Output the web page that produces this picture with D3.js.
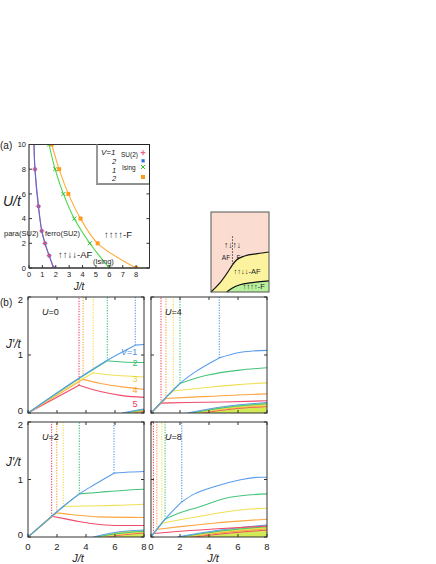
<!DOCTYPE html>
<html><head><meta charset="utf-8">
<script src="https://cdnjs.cloudflare.com/ajax/libs/d3/7.8.5/d3.min.js"></script>
<style>
body{margin:0;background:#fff}
svg{display:block}
text{font-family:"Liberation Sans",Arial,sans-serif;fill:#222}
</style>
</head><body><script>
// ---------- panel (a) data ----------
var suU  = [0, 1, 2, 3, 5, 8, 10];
var suJ1 = [1.83, 1.5, 1.19, 0.96, 0.69, 0.44, 0.37];
var suJ2 = [1.85, 1.51, 1.2, 0.95, 0.72, 0.45, 0.38];
var isU  = [0, 2, 4, 6, 8, 10];
var isJ1 = [6.0, 4.54, 3.38, 2.57, 1.95, 1.5];
var isJ2 = [8.0, 5.13, 3.85, 2.94, 2.25, 1.7];
var aXTicks = [0, 1, 2, 3, 4, 5, 6, 7, 8];
var aYTicks = [0, 2, 4, 6, 8, 10];

// ---------- panel (b) data ----------
var panelU = [0, 4, 2, 8];
var vLabels = ["1", "2", "3", "4", "5"];
var vLabelJp = [1.05, 0.86, 0.59, 0.41, 0.155];   // where the V labels sit in U=0
var bXTicks = [0, 2, 4, 6, 8];
var bYTicks = [0, 1, 2];

// J where each V curve kinks (V=1..5), per panel
var kinkJ = [
  [7.4, 5.47, 4.5, 3.8, 3.52],
  [4.71, 2.0, 1.54, 1.03, 0.69],
  [5.93, 3.54, 2.43, 1.98, 1.63],
  [2.12, 0.97, 0.74, 0.4, 0.17]
];

// [J, J'] points for V=1..5
var u0Lines = [
  [[0,0],[3.5,0.6],[5.47,0.91],[7.4,1.17],[8,1.18]],
  [[0,0],[3.5,0.59],[5.47,0.9],[6.5,0.88],[8,0.87]],
  [[0,0],[3.5,0.55],[4.5,0.69],[6,0.65],[8,0.62]],
  [[0,0],[3.8,0.58],[5,0.51],[6.5,0.45],[8,0.41]],
  [[0,0],[3.52,0.48],[5,0.37],[6.5,0.3],[8,0.27]]
];
var u4Lines = [
  [[0,0],[1.03,0.27],[2,0.51],[3,0.7],[4.71,0.95],[6,1.04],[7,1.07],[8,1.08]],
  [[0,0],[1.03,0.27],[2,0.51],[3.84,0.65],[6.1,0.74],[8,0.78]],
  [[0,0],[1.03,0.27],[1.54,0.38],[3.84,0.44],[6,0.49],[8,0.52]],
  [[0,0],[1.03,0.25],[2.5,0.27],[4.3,0.29],[6,0.31],[8,0.33]],
  [[0,0],[0.69,0.17],[2.5,0.18],[5,0.19],[8,0.21]]
];
var u2Lines = [
  [[0,0],[1.63,0.36],[2.43,0.53],[3.54,0.75],[4.5,0.9],[5.93,1.11],[7,1.13],[8,1.14]],
  [[0,0],[1.63,0.36],[2.43,0.53],[3.54,0.75],[5,0.78],[6.5,0.81],[8,0.83]],
  [[0,0],[1.63,0.36],[2.43,0.53],[4,0.54],[6,0.55],[8,0.57]],
  [[0,0],[1.98,0.42],[3,0.39],[5,0.35],[8,0.34]],
  [[0,0],[1.63,0.36],[2.5,0.32],[3.5,0.27],[4.5,0.23],[6,0.2],[8,0.2]]
];
var u8Lines = [
  [[0,0],[0.97,0.31],[2.12,0.61],[3,0.75],[4.3,0.87],[6.1,0.99],[7.5,1.04],[8,1.04]],
  [[0,0],[0.97,0.31],[2,0.42],[3.15,0.51],[5.45,0.69],[8,0.75]],
  [[0,0],[0.74,0.24],[2,0.3],[3.15,0.35],[6.1,0.47],[8,0.5]],
  [[0,0],[0.4,0.13],[2,0.18],[4.3,0.24],[8,0.31]],
  [[0,0],[0.17,0.06],[2,0.1],[4.3,0.14],[8,0.19]]
];
// lower (ferro) boundaries
var u0Ferro = [
  [[6.5,0],[7.3,0.04],[8,0.07]],
  [[6.7,0],[7.4,0.03],[8,0.06]],
  [[6.9,0],[7.5,0.03],[8,0.05]],
  [[7.1,0],[7.6,0.02],[8,0.04]],
  [[7.3,0],[7.7,0.02],[8,0.03]]
];
var u4Ferro = [
  [[2.5,0],[5,0.11],[8,0.18]],
  [[2.8,0],[5,0.09],[8,0.16]],
  [[3.1,0],[5.5,0.09],[8,0.14]],
  [[3.3,0],[5.5,0.08],[8,0.12]],
  [[3.5,0],[6,0.08],[8,0.11]]
];
var u2Ferro = [
  [[4.5,0],[6,0.08],[8,0.12]],
  [[4.7,0],[6.2,0.06],[8,0.1]],
  [[4.9,0],[6.4,0.05],[8,0.09]],
  [[5.1,0],[6.5,0.05],[8,0.08]],
  [[5.3,0],[6.6,0.04],[8,0.07]]
];
var u8Ferro = [
  [[1.8,0],[5,0.13],[8,0.21]],
  [[2.0,0],[5,0.11],[8,0.18]],
  [[2.3,0],[5,0.1],[8,0.16]],
  [[2.6,0],[5.5,0.09],[8,0.14]],
  [[2.9,0],[5.5,0.07],[8,0.12]]
];
var panelLines = [u0Lines, u4Lines, u2Lines, u8Lines];
var panelFerro = [u0Ferro, u4Ferro, u2Ferro, u8Ferro];

// inset schematic (local 0..1 coordinates)
var insetUpper = [[0,0],[0.15,0.11],[0.29,0.25],[0.37,0.34],[0.44,0.4],[0.58,0.45],[0.8,0.48],[1,0.5]];
var insetLower = [[0.27,0],[0.37,0.05],[0.5,0.09],[0.67,0.115],[0.85,0.13],[1,0.14]];

var vColors = ["#5a9ceb", "#46c57c", "#f0df55", "#ffa540", "#ef4b6a"];
var vTextColors = ["#4a8fe3", "#2fb86a", "#e8d22a", "#ff9a25", "#ee3858"];

var svg = d3.select("body").append("svg").attr("width", 436).attr("height", 564);
svg.append("rect").attr("width", 436).attr("height", 564).attr("fill", "#fff");

// ================= panel (a) =================
var ax = d3.scaleLinear().domain([0, 9]).range([29, 149.5]);
var ay = d3.scaleLinear().domain([0, 10]).range([268, 144.5]);

svg.append("clipPath").attr("id", "clipA").append("rect")
  .attr("x", ax(0)).attr("y", ay(10)).attr("width", ax(9) - ax(0)).attr("height", ay(0) - ay(10));
var ga = svg.append("g").attr("clip-path", "url(#clipA)");

var aLine = d3.line().x(function(d){ return ax(d[0]); }).y(function(d){ return ay(d[1]); })
  .curve(d3.curveCatmullRom.alpha(0.5));

function pairs(js, us){ return js.map(function(j, i){ return [j, us[i]]; }); }

ga.append("path").attr("d", aLine(pairs(isJ2, isU))).attr("fill", "none").attr("stroke", "#ffab3d").attr("stroke-width", 1.1);
ga.append("path").attr("d", aLine(pairs(isJ1, isU))).attr("fill", "none").attr("stroke", "#48d648").attr("stroke-width", 1.1);
ga.append("path").attr("d", aLine(pairs(suJ1, suU))).attr("fill", "none").attr("stroke", "#ee4d7a").attr("stroke-width", 1.1);
ga.append("path").attr("d", aLine(pairs(suJ2, suU))).attr("fill", "none").attr("stroke", "#3a72dd").attr("stroke-width", 1.1).attr("opacity", 0.85);

// markers
ga.selectAll("rect.su2").data(pairs(suJ2, suU).slice(0, 6)).enter().append("rect")
  .attr("class", "su2")
  .attr("x", function(d){ return ax(d[0]) - 1.6; }).attr("y", function(d){ return ay(d[1]) - 1.6; })
  .attr("width", 3.2).attr("height", 3.2).attr("fill", "#2f6ee0");
ga.selectAll("path.su1").data(pairs(suJ1, suU).slice(0, 6)).enter().append("path")
  .attr("class", "su1")
  .attr("d", function(d){ var x = ax(d[0]), y = ay(d[1]); return "M" + (x-2.5) + "," + y + "H" + (x+2.5) + "M" + x + "," + (y-2.5) + "V" + (y+2.5); })
  .attr("stroke", "#ee4d7a").attr("stroke-width", 1);
ga.selectAll("path.is1").data(pairs(isJ1, isU)).enter().append("path")
  .attr("class", "is1")
  .attr("d", function(d){ var x = ax(d[0]), y = ay(d[1]); return "M" + (x-2) + "," + (y-2) + "L" + (x+2) + "," + (y+2) + "M" + (x+2) + "," + (y-2) + "L" + (x-2) + "," + (y+2); })
  .attr("stroke", "#33c433").attr("stroke-width", 1);
ga.selectAll("rect.is2").data(pairs(isJ2, isU)).enter().append("rect")
  .attr("class", "is2")
  .attr("x", function(d){ return ax(d[0]) - 2; }).attr("y", function(d){ return ay(d[1]) - 2; })
  .attr("width", 4).attr("height", 4).attr("fill", "#ff9a1a");

// frame and ticks
svg.append("rect").attr("x", ax(0)).attr("y", ay(10)).attr("width", ax(9) - ax(0)).attr("height", ay(0) - ay(10))
  .attr("fill", "none").attr("stroke", "#333").attr("stroke-width", 1);
svg.append("line").attr("x1", ax(0)).attr("x2", ax(0)).attr("y1", ay(10)).attr("y2", ay(0)).attr("stroke", "#888").attr("stroke-width", 1.6);
svg.append("line").attr("x1", ax(0)).attr("x2", ax(9)).attr("y1", ay(0)).attr("y2", ay(0)).attr("stroke", "#555").attr("stroke-width", 1.4);

svg.selectAll("line.axt").data(aXTicks).enter().append("line").attr("class", "axt")
  .attr("x1", function(d){ return ax(d); }).attr("x2", function(d){ return ax(d); })
  .attr("y1", ay(0)).attr("y2", ay(0) - 3).attr("stroke", "#333");
svg.selectAll("line.ayt").data(aYTicks).enter().append("line").attr("class", "ayt")
  .attr("x1", ax(0)).attr("x2", ax(0) + 3)
  .attr("y1", function(d){ return ay(d); }).attr("y2", function(d){ return ay(d); }).attr("stroke", "#333");
svg.selectAll("line.ayr").data(aYTicks).enter().append("line").attr("class", "ayr")
  .attr("x1", ax(9)).attr("x2", ax(9) - 3)
  .attr("y1", function(d){ return ay(d); }).attr("y2", function(d){ return ay(d); }).attr("stroke", "#333");

svg.selectAll("text.axl").data(aXTicks).enter().append("text").attr("class", "axl")
  .attr("x", function(d){ return ax(d); }).attr("y", ay(0) + 9)
  .attr("text-anchor", "middle").attr("font-size", 7.5).text(function(d){ return d; });
svg.selectAll("text.ayl").data(aYTicks).enter().append("text").attr("class", "ayl")
  .attr("x", ax(0) - 3).attr("y", function(d){ return ay(d) + 2.6; })
  .attr("text-anchor", "end").attr("font-size", 7.5).text(function(d){ return d; });

svg.append("text").attr("x", 0).attr("y", 149).attr("font-size", 10).text("(a)");
svg.append("text").attr("x", 3).attr("y", 206).attr("font-size", 14).attr("font-style", "italic").text("U/t");
svg.append("text").attr("x", 79).attr("y", 290).attr("text-anchor", "middle").attr("font-size", 10).attr("font-style", "italic").text("J/t");

svg.append("text").attr("x", 4).attr("y", 236).attr("font-size", 7.5).text("para(SU2)");
svg.append("text").attr("x", 45).attr("y", 236).attr("font-size", 7.5).text("ferro(SU2)");
svg.append("text").attr("x", 104).attr("y", 237.5).attr("font-size", 9.5).text("\u2191\u2191\u2191\u2191-F");
svg.append("text").attr("x", 58).attr("y", 258).attr("font-size", 9.5).text("\u2191\u2191\u2193\u2193-AF");
svg.append("text").attr("x", 93).attr("y", 264).attr("font-size", 7.5).text("(Ising)");

// legend
var lg = svg.append("g");
lg.append("rect").attr("x", 96.5).attr("y", 144.5).attr("width", 53).attr("height", 39.5)
  .attr("fill", "#fff").attr("stroke", "#222").attr("stroke-width", 1);
lg.append("line").attr("x1", 97).attr("x2", 97).attr("y1", 144.5).attr("y2", 184).attr("stroke", "#999").attr("stroke-width", 2);
lg.append("text").attr("x", 101).attr("y", 155).attr("font-size", 8).attr("font-style", "italic").text("V=1");
lg.append("text").attr("x", 112).attr("y", 164).attr("font-size", 7.5).attr("font-style", "italic").text("2");
lg.append("text").attr("x", 112).attr("y", 172.5).attr("font-size", 7.5).attr("font-style", "italic").text("1");
lg.append("text").attr("x", 112).attr("y", 181).attr("font-size", 7.5).attr("font-style", "italic").text("2");
lg.append("text").attr("x", 121).attr("y", 156.5).attr("font-size", 6.5).text("SU(2)");
lg.append("text").attr("x", 122).attr("y", 170).attr("font-size", 6.5).text("Ising");
lg.append("path").attr("d", "M140.5,152.7H145.5M143,150.2V155.2").attr("stroke", "#ee4d7a");
lg.append("rect").attr("x", 141.5).attr("y", 159.2).attr("width", 3.2).attr("height", 3.2).attr("fill", "#2f6ee0");
lg.append("path").attr("d", "M141,165L145,169M145,165L141,169").attr("stroke", "#33c433");
lg.append("rect").attr("x", 141).attr("y", 175).attr("width", 4).attr("height", 4).attr("fill", "#ff9a1a");

// ================= inset schematic =================
var ix = d3.scaleLinear().domain([0, 1]).range([211, 269]);
var iy = d3.scaleLinear().domain([0, 1]).range([292, 212]);
var iLine = d3.line().x(function(d){ return ix(d[0]); }).y(function(d){ return iy(d[1]); }).curve(d3.curveMonotoneX);
svg.append("rect").attr("x", ix(0)).attr("y", iy(1)).attr("width", ix(1) - ix(0)).attr("height", iy(0) - iy(1)).attr("fill", "#fbdcd1");
svg.append("path").attr("d", d3.area().x(function(d){ return ix(d[0]); }).y0(iy(0)).y1(function(d){ return iy(d[1]); }).curve(d3.curveMonotoneX)(insetUpper)).attr("fill", "#fbf39e");
svg.append("path").attr("d", d3.area().x(function(d){ return ix(d[0]); }).y0(iy(0)).y1(function(d){ return iy(d[1]); }).curve(d3.curveMonotoneX)(insetLower)).attr("fill", "#b8f09c");
svg.append("path").attr("d", iLine(insetUpper)).attr("fill", "none").attr("stroke", "#111").attr("stroke-width", 1.2);
svg.append("path").attr("d", iLine(insetLower)).attr("fill", "none").attr("stroke", "#111").attr("stroke-width", 1.2);
svg.append("line").attr("x1", ix(0.37)).attr("x2", ix(0.37)).attr("y1", iy(0.34)).attr("y2", iy(0.7))
  .attr("stroke", "#444").attr("stroke-dasharray", "1.5,1.5");
svg.append("text").attr("x", ix(0.37)).attr("y", iy(0.55)).attr("text-anchor", "middle").attr("font-size", 8.5).attr("fill", "#333").text("\u2191\u2193\u2191\u2193");
svg.append("text").attr("x", ix(0.33)).attr("y", iy(0.4)).attr("text-anchor", "end").attr("font-size", 6.5).attr("fill", "#333").text("AF");
svg.append("text").attr("x", ix(0.44)).attr("y", iy(0.4)).attr("font-size", 6.5).attr("fill", "#333").text("F");
svg.append("text").attr("x", ix(0.62)).attr("y", iy(0.22)).attr("text-anchor", "middle").attr("font-size", 7.5).attr("fill", "#333").text("\u2191\u2191\u2193\u2193-AF");
svg.append("text").attr("x", ix(0.74)).attr("y", iy(0.035)).attr("text-anchor", "middle").attr("font-size", 7.5).attr("fill", "#666").text("\u2191\u2191\u2191\u2191-F");
svg.append("rect").attr("x", ix(0)).attr("y", iy(1)).attr("width", ix(1) - ix(0)).attr("height", iy(0) - iy(1))
  .attr("fill", "none").attr("stroke", "#555").attr("stroke-width", 1);

// ================= panel (b) =================
var boxes = [
  {x0: 28, x1: 144, y0: 297, y1: 413, xl: 78},
  {x0: 151, x1: 267, y0: 297, y1: 413, xl: 213},
  {x0: 28, x1: 144, y0: 422, y1: 537, xl: 78},
  {x0: 151, x1: 267, y0: 422, y1: 537, xl: 213}
];

boxes.forEach(function(b, p){
  var x = d3.scaleLinear().domain([0, 8]).range([b.x0, b.x1]);
  var y = d3.scaleLinear().domain([0, 2]).range([b.y1, b.y0]);
  var id = "clipB" + p;
  svg.append("clipPath").attr("id", id).append("rect")
    .attr("x", b.x0).attr("y", b.y0).attr("width", b.x1 - b.x0).attr("height", b.y1 - b.y0);
  var g = svg.append("g").attr("clip-path", "url(#" + id + ")");

  var line = d3.line().x(function(d){ return x(d[0]); }).y(function(d){ return y(d[1]); }).curve(d3.curveMonotoneX);
  var area = d3.area().x(function(d){ return x(d[0]); }).y0(y(0)).y1(function(d){ return y(d[1]); }).curve(d3.curveMonotoneX);

  // ferro region
  panelFerro[p].forEach(function(f){
    g.append("path").attr("d", area(f)).attr("fill", "#d3ea58");
  });
  panelFerro[p].slice().reverse().forEach(function(f, k){
    var v = 4 - k;
    g.append("path").attr("d", line(f)).attr("fill", "none").attr("stroke", vColors[v]).attr("stroke-width", 1);
  });

  // main curves, V=5 first so V=1 ends on top
  for (var v = 4; v >= 0; v--) {
    var pts = panelLines[p][v];
    var kj = kinkJ[p][v];
    var ki = pts.findIndex(function(d){ return Math.abs(d[0] - kj) < 1e-6; });
    if (ki < 0) ki = 1;
    var kp = pts[ki];
    g.append("line").attr("x1", x(kp[0])).attr("x2", x(kp[0])).attr("y1", y(kp[1])).attr("y2", y(2))
      .attr("stroke", vColors[v]).attr("stroke-width", 1.1).attr("stroke-dasharray", "1.3,1.3");
    g.append("path").attr("d", line(pts.slice(0, ki + 1))).attr("fill", "none").attr("stroke", vColors[v]).attr("stroke-width", 1.1);
    g.append("path").attr("d", line(pts.slice(ki))).attr("fill", "none").attr("stroke", vColors[v]).attr("stroke-width", 1.1);
  }

  // frame
  svg.append("rect").attr("x", b.x0).attr("y", b.y0).attr("width", b.x1 - b.x0).attr("height", b.y1 - b.y0)
    .attr("fill", "none").attr("stroke", "#333").attr("stroke-width", 1);
  var fr = svg.append("g");
  bXTicks.forEach(function(t){
    fr.append("line").attr("x1", x(t)).attr("x2", x(t)).attr("y1", b.y1).attr("y2", b.y1 - 3).attr("stroke", "#333");
    fr.append("line").attr("x1", x(t)).attr("x2", x(t)).attr("y1", b.y0).attr("y2", b.y0 + 3).attr("stroke", "#333");
  });
  bYTicks.forEach(function(t){
    fr.append("line").attr("x1", b.x0).attr("x2", b.x0 + 3).attr("y1", y(t)).attr("y2", y(t)).attr("stroke", "#333");
    fr.append("line").attr("x1", b.x1).attr("x2", b.x1 - 3).attr("y1", y(t)).attr("y2", y(t)).attr("stroke", "#333");
  });

  if (p === 0 || p === 2) {
    bYTicks.forEach(function(t){
      var off = t === 0 ? 0.5 : (t === 2 ? 6 : 3.2);
      svg.append("text").attr("x", b.x0 - 5).attr("y", y(t) + off).attr("text-anchor", "end").attr("font-size", 9.5).text(t);
    });
    svg.append("text").attr("x", 6).attr("y", y(1) - (p === 0 ? 7 : 14)).attr("font-size", 12).attr("font-style", "italic").text("J\u2032/t");
  }
  if (p === 2 || p === 3) {
    bXTicks.forEach(function(t){
      svg.append("text").attr("x", x(t)).attr("y", b.y1 + 13).attr("text-anchor", "middle").attr("font-size", 9.5).text(t);
    });
    svg.append("text").attr("x", b.xl).attr("y", b.y1 + 25).attr("text-anchor", "middle")
      .attr("font-size", 11).attr("font-style", "italic").text("J/t");
  }
  var ut = svg.append("text").attr("x", b.x0 + 14).attr("y", b.y0 + 18).attr("font-size", 9);
  ut.append("tspan").attr("font-style", "italic").text("U");
  ut.append("tspan").text("=" + panelU[p]);

  if (p === 0) {
    vLabels.forEach(function(l, i){
      var t = svg.append("text").attr("x", x(7.38)).attr("y", y(vLabelJp[i]) + 3.3).attr("text-anchor", "middle")
        .attr("font-size", 9).style("fill", vTextColors[i]);
      if (i === 0) {
        t.attr("x", x(6.97));
        t.append("tspan").attr("font-style", "italic").text("V");
        t.append("tspan").text("=1");
      } else {
        t.text(l);
      }
    });
  }
});

svg.append("text").attr("x", 0).attr("y", 306).attr("font-size", 10).text("(b)");
</script></body></html>
